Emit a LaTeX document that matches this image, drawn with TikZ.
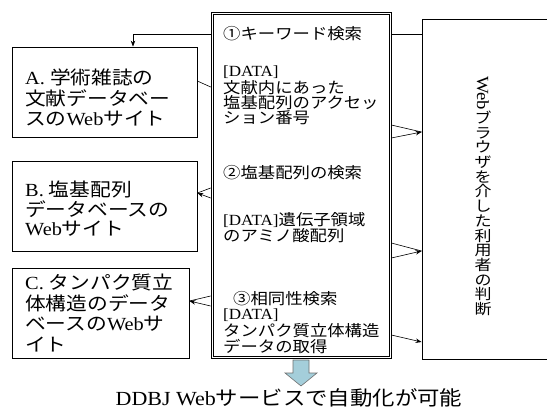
\documentclass[tikz,border=0pt]{standalone}
\usepackage{fontspec}
\setmainfont[FakeStretch=1.1]{Liberation Serif}
\newfontfamily\jp[FakeStretch=1.12]{Noto Sans CJK JP}
\newfontfamily\jpv{Noto Sans CJK JP}
\usetikzlibrary{arrows.meta}
\newcommand{\vc}[1]{\scalebox{1}[0.86]{#1}}
\begin{document}
\begin{tikzpicture}[x=1pt,y=-1pt,
  box/.style={draw, line width=0.8pt, inner sep=0},
  ltxt/.style={anchor=west, inner sep=0, font=\fontsize{18.5}{21}\selectfont},
  ctxt/.style={anchor=west, inner sep=0, font=\fontsize{15.5}{16}\selectfont},
  arr/.style={-{Stealth[length=6pt,width=4.5pt]}, line width=0.6pt},
  ln/.style={line width=0.6pt}]
\useasboundingbox (0,0) rectangle (547,410);
\clip (0,0) rectangle (547,410);
% boxes
\node[box, minimum width=185, minimum height=90] (A) at (104.5,92) {};
\node[box, minimum width=185, minimum height=90] (B) at (104.5,206) {};
\node[box, minimum width=177, minimum height=90] (C) at (100.5,313) {};
\node[draw, line width=0.7pt, minimum width=180, minimum height=346, inner sep=0] (M) at (301,185) {};
\draw[line width=0.7pt] ([shift={(2.5,2.5)}]M.north west) rectangle ([shift={(-2.5,-2.5)}]M.south east);
\node[box, minimum width=150, minimum height=340] (R) at (497,189) {};
% box texts
\node[ltxt] (a1) at (25,77) {A. {\jp 学術雑誌の}};
\node[ltxt] (a2) at (25,98) {\jp 文献データベー};
\node[ltxt] (a3) at (25,119) {{\jp スの}Web{\jp サイト}};
\node[ltxt] (b1) at (25,189) {B. {\jp 塩基配列}};
\node[ltxt] (b2) at (25,209) {\jp データベースの};
\node[ltxt] (b3) at (25,229) {Web{\jp サイト}};
\node[ltxt] (c1) at (25,282) {C. {\jp タンパク質立}};
\node[ltxt] (c2) at (25,303) {\jp 体構造のデータ};
\node[ltxt] (c3) at (25,324) {{\jp ベースの}Web{\jp サ}};
\node[ltxt] (c4) at (25,345) {\jp イト};
% center texts
\node[ctxt] (m1) at (223,34) {\jp ①キーワード検索};
\node[ctxt] (m2) at (223,72) {[DATA]};
\node[ctxt] (m3) at (223,88) {\jp 文献内にあった};
\node[ctxt] (m4) at (223,103) {\jp 塩基配列のアクセッ};
\node[ctxt] (m5) at (223,118) {\jp ション番号};
\node[ctxt] (m6) at (223,173) {\jp ②塩基配列の検索};
\node[ctxt] (m7) at (223,220) {[DATA]{\jp 遺伝子領域}};
\node[ctxt] (m8) at (223,236) {\jp のアミノ酸配列};
\node[ctxt] (m9) at (233,299) {\jp ③相同性検索};
\node[ctxt] (m10) at (223,315) {[DATA]};
\node[ctxt] (m11) at (223,331) {\jp タンパク質立体構造};
\node[ctxt] (m12) at (223,347) {\jp データの取得};
% vertical text
\node[align=center, inner sep=0, font={\jpv\fontsize{17}{14.7}\selectfont}] (vt) at (483,196)
  {\rotatebox{-90}{\rmfamily Web}\\\vc{ブ}\\\vc{ラ}\\\vc{ウ}\\\vc{ザ}\\\vc{を}\\\vc{介}\\\vc{し}\\\vc{た}\\\vc{利}\\\vc{用}\\\vc{者}\\\vc{の}\\\vc{判}\\\vc{断}};
% bottom text
\node[inner sep=0, font=\fontsize{20}{22}\selectfont] (dd) at (289,398) {DDBJ Web{\jp サービスで自動化が可能}};
% block arrow
\filldraw[fill={rgb,255:red,164;green,206;blue,218}, draw={rgb,255:red,110;green,110;blue,110}, line width=0.6pt]
  (293,360) -- (309,360) -- (309,373) -- (317,373) -- (301,386) -- (285,373) -- (293,373) -- cycle;
% connectors
\coordinate (kwl) at (133,34);
\draw[arr] (M.west |- kwl) -- (kwl) -- (kwl |- A.north);
\draw[ln] (M.east |- kwl) -- (R.west |- kwl);
\draw[ln] (A.east |- 0,81) -- (M.west |- 0,87);
\draw[ln] (M.east |- 0,125) -- (R.west |- 0,132);
\draw[arr] (M.east |- 0,138) -- (R.west |- 0,132);
\draw[ln] (M.east |- 0,243) -- (R.west |- 0,251);
\draw[arr] (M.east |- 0,258) -- (R.west |- 0,251);
\draw[arr] (M.east |- 0,335) -- (R.west |- 0,342);
\draw[ln] (M.west |- 0,188) -- (B.east |- 0,193);
\draw[arr] (M.west |- 0,198) -- (B.east |- 0,193);
\draw[ln] (M.west |- 0,296) -- (C.east |- 0,301);
\draw[arr] (M.west |- 0,306) -- (C.east |- 0,301);
\end{tikzpicture}
\end{document}
